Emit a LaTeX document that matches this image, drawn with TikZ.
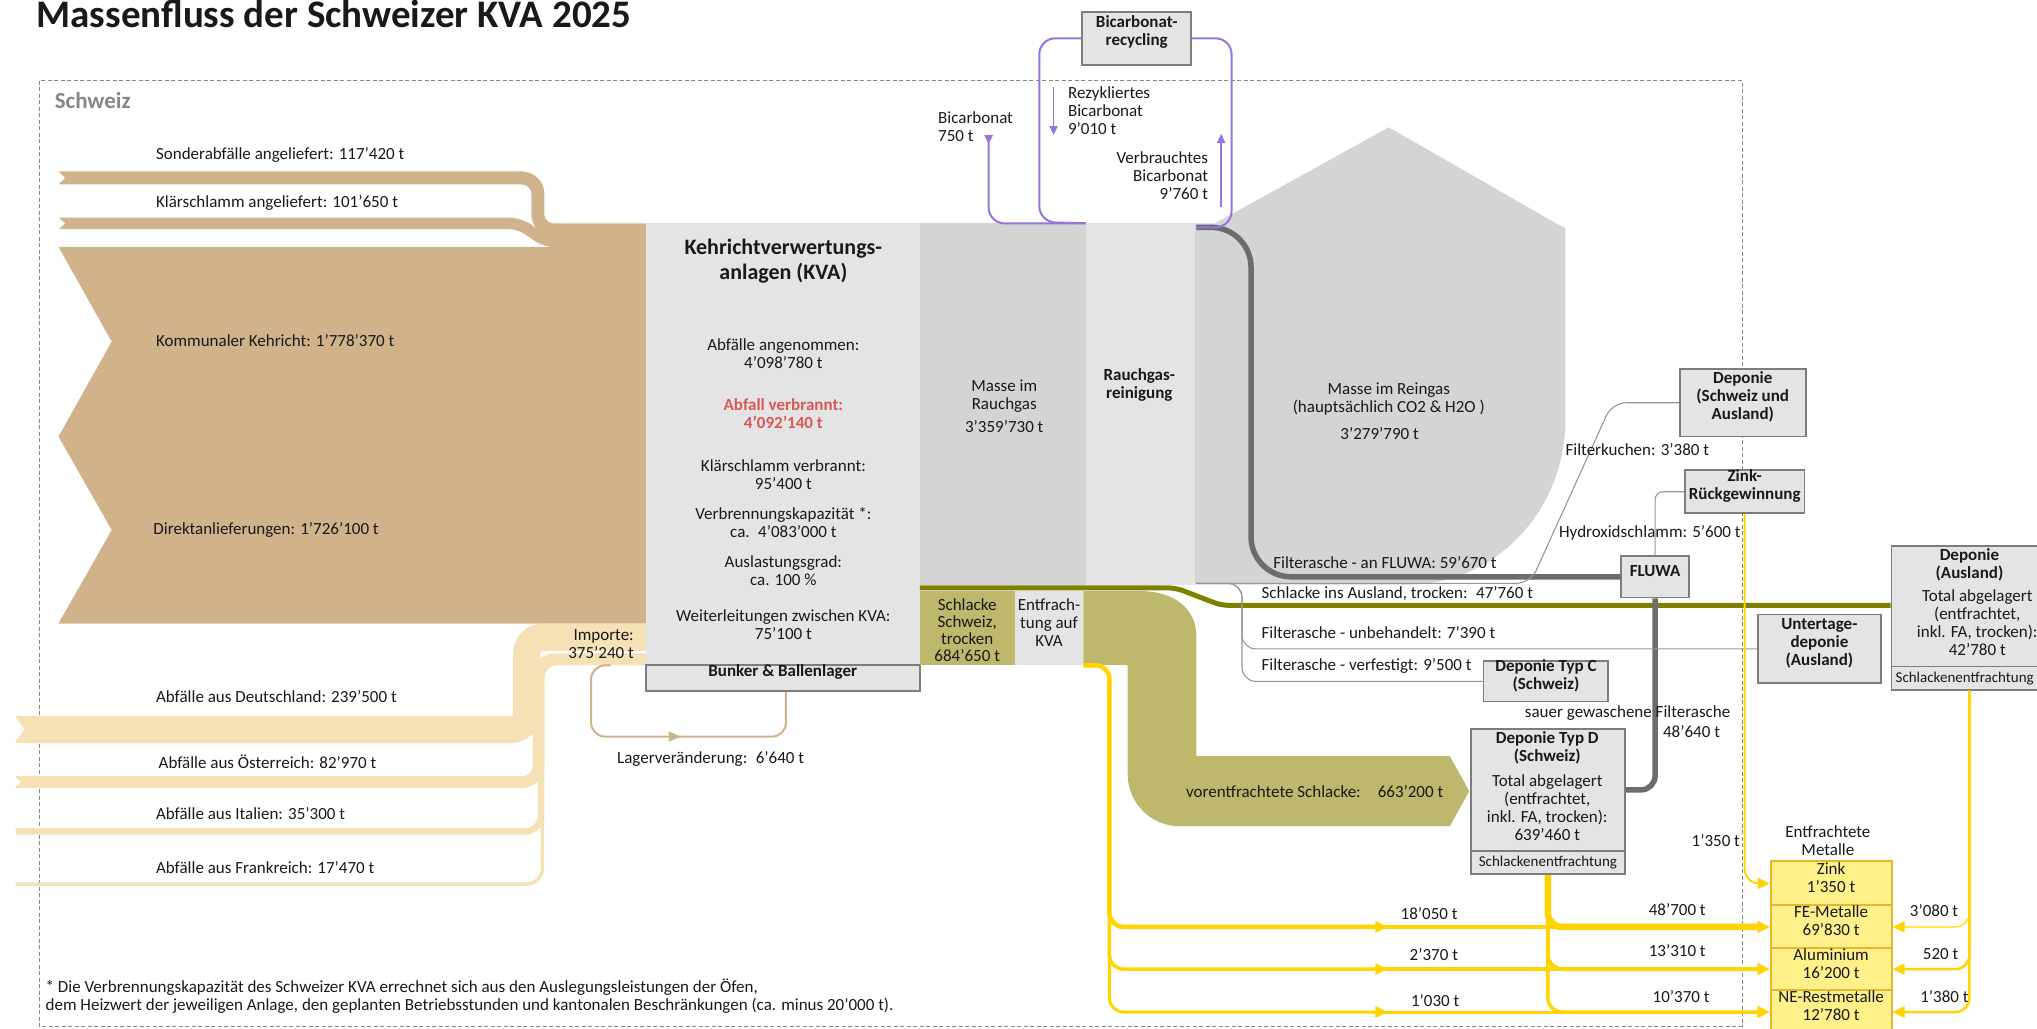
\documentclass[tikz,border=0pt]{standalone}
\usepackage{fontspec}
\setmainfont{Carlito}
\usetikzlibrary{arrows.meta, positioning, calc, fit}

\definecolor{wastetan}{RGB}{209,179,139}
\definecolor{importtan}{RGB}{246,224,181}
\definecolor{slagkhaki}{RGB}{190,184,108}
\definecolor{slagolive}{RGB}{128,128,0}
\definecolor{plantgray}{RGB}{228,228,228}
\definecolor{gasgray}{RGB}{212,212,212}
\definecolor{edgegray}{RGB}{125,125,125}
\definecolor{ashgray}{RGB}{108,108,108}
\definecolor{thingray}{RGB}{150,150,150}
\definecolor{bicarbviolet}{RGB}{150,115,222}
\definecolor{metalgold}{RGB}{255,212,0}
\definecolor{metalfill}{RGB}{255,240,138}
\definecolor{metaledge}{RGB}{228,183,45}
\definecolor{burnred}{RGB}{217,88,86}
\definecolor{framegray}{RGB}{135,135,135}
\definecolor{inkblack}{RGB}{25,25,25}

\begin{document}
\begin{tikzpicture}[x=1.299pt, y=-1.299pt,
    every node/.style={inner sep=0pt, text=inkblack},
    lbl/.style={font=\fontsize{17}{18}\selectfont, align=center},
    boldlbl/.style={font=\fontsize{17}{18}\selectfont\bfseries, align=center},
    sublbl/.style={font=\fontsize{15}{16}\selectfont},
    depotbox/.style={draw=edgegray, fill=plantgray, line width=1.8pt},
    metalbox/.style={draw=metaledge, fill=metalfill, line width=2pt, font=\fontsize{17}{18}\selectfont, align=center},
    goldflow/.style={metalgold, line width=#1, rounded corners=14pt},
    goldflow/.default=3pt,
    goldtip/.style={-{Triangle[length=12pt, width=11pt]}},
    violetflow/.style={bicarbviolet, line width=2pt, rounded corners=16pt},
    thinflow/.style={thingray, line width=1.1pt, rounded corners=14pt},
    ashflow/.style={ashgray, line width=5.5pt},
  ]
    \useasboundingbox (0,0) rectangle (1568,792);
    \clip (0,0) rectangle (1568,792);

    % Title
    \node (title) [anchor=base west, font=\fontsize{39}{43}\selectfont\bfseries] at (28,21) {Massenfluss der Schweizer KVA 2025};

    % Frame Schweiz
    \draw[framegray, line width=0.9pt, dash pattern=on 4pt off 2.5pt] (30,62) rectangle (1341,790);
    \node (schweiz) [anchor=west, font=\fontsize{23}{25}\selectfont\bfseries, text=framegray] at (42,77) {Schweiz};

    % Inputs from Switzerland
    \fill[wastetan] (45,190) -- (498,190) -- (498,480) -- (45,480) -- (86,408) -- (45,336) -- (86,263) -- cycle;
    \draw[wastetan, line width=13pt, rounded corners=16pt] (45,137) -- (414,137) -- (414,177) -- (498,177);
    \draw[wastetan, line width=11.5pt, rounded corners=10pt] (45,172) -- (400,172) -- (420,186) -- (498,186);
    \fill[white] (44,131) -- (50,137) -- (44,143) -- cycle;
    \fill[white] (44,166.5) -- (50,172) -- (44,177.5) -- cycle;

    % Imports
    \draw[importtan, line width=27.3pt, rounded corners=16pt] (12,561.5) -- (405.5,561.5) -- (405.5,490.5) -- (498,490.5);
    \draw[importtan, line width=11.7pt, rounded corners=16pt] (12,602) -- (414.5,602) -- (414.5,507.5) -- (498,507.5);
    \draw[importtan, line width=6.5pt, rounded corners=16pt] (12,640) -- (416.5,640) -- (416.5,509.5) -- (498,509.5);
    \draw[importtan, line width=3.5pt, rounded corners=16pt] (12,680.5) -- (417.5,680.5) -- (417.5,510.5) -- (498,510.5);
    \fill[white] (11,551) -- (19,561.5) -- (11,572) -- cycle;
    \fill[white] (11,597.5) -- (16,602) -- (11,606.5) -- cycle;

    % KVA
    \node (kva) [fill=plantgray, fit={(497,172) (708,512)}] {};
    \node (kvatitle) [font=\fontsize{22}{25}\selectfont\bfseries, align=center] at (603,201) {Kehrichtverwertungs-\\anlagen (KVA)};
    \node (angenommen) [lbl] at (603,272.5) {Abfälle angenommen:\\4’098’780 t};
    \node (verbrannt) [boldlbl, text=burnred] at (603,318.5) {Abfall verbrannt:\\4’092’140 t};
    \node (klaerschlamm) [lbl] at (603,365) {Klärschlamm verbrannt:\\95’400 t};
    \node (kapazitaet) [lbl] at (603,402.5) {Verbrennungskapazität *:\\ca.\enspace 4’083’000 t};
    \node (auslastung) [lbl] at (603,439) {Auslastungsgrad:\\ca. 100 \%};
    \node (weiterleitung) [lbl] at (603,481) {Weiterleitungen zwischen KVA:\\75’100 t};
    \node (bunker) [depotbox, boldlbl, fit={(497,512) (708,532)}] {Bunker \& Ballenlager};
    \node (importe) [lbl, align=right, anchor=east] at (488,495.5) {Importe:\\375’240 t};

    % Flue gas
    \node (rauchgasblock) [fill=gasgray, fit={(708,172) (836,450)}] {};
    \node (rauchgas) [lbl] at (773,313) {Masse im\\Rauchgas\\[5pt]3’359’730 t};
    \node (reinigung) [fill=plantgray, fit={(836,172) (920,450)}] {};
    \node (reinigunglbl) [boldlbl] at (877,296.5) {Rauchgas-\\reinigung};
    \fill[gasgray] (920,450) -- (920,172) -- (935,172) -- (1069,98) -- (1205,176) -- (1205,323) .. controls (1205,393) and (1151,450) .. (1084,450) -- cycle;
    \node (reingas) [lbl] at (1069,307.5) {Masse im Reingas\\(hauptsächlich CO2 \& H2O )};
    \node (reingaswert) [lbl] at (1062,334) {3’279’790 t};

    % Slag
    \node (schlacke) [fill=slagkhaki, fit={(708,455) (781,512)}] {};
    \node (schlackelbl) [font=\fontsize{17}{17}\selectfont, align=center] at (744.5,485) {Schlacke\\Schweiz,\\trocken\\684’650 t};
    \node (entfr) [fill=plantgray, lbl, fit={(781,455) (834,512)}] {Entfrach-\\tung auf\\KVA};
    \fill[slagkhaki] (834,455) -- (878,455) .. controls (903,455) and (921,468) .. (921,490) -- (921,582) -- (1116,582) -- (1131,609) -- (1116,636) -- (908,636) .. controls (886,636) and (868,618) .. (868,596) -- (868,512) -- (834,512) -- cycle;
    \node (vorentfr) [lbl] at (1012,609.5) {vorentfrachtete Schlacke:\enspace\enspace 663’200 t};

    % Disposal boxes
    \node (bicarb) [depotbox, boldlbl, fit={(833,9) (917,50)}] {Bicarbonat-\\recycling};
    \node (dschweiz) [depotbox, boldlbl, fit={(1293,284) (1390,336)}] {Deponie\\(Schweiz und\\Ausland)};
    \node (zinkrg) [depotbox, boldlbl, fit={(1297,362) (1389,395)}] {Zink-\\Rückgewinnung};
    \node (fluwa) [depotbox, boldlbl, fit={(1248,428) (1300,460)}] {FLUWA};
    \node (dtypc) [depotbox, boldlbl, fit={(1142,509) (1238,540)}] {Deponie Typ C\\(Schweiz)};
    \node (untertage) [depotbox, boldlbl, fit={(1353,473) (1448,526)}] {Untertage-\\deponie\\(Ausland)};
    \node (dtypd) [depotbox, fit={(1132,561) (1251,673)}] {};
    \draw[edgegray, line width=1.8pt] (dtypd.west |- 0,655) -- (dtypd.east |- 0,655);
    \node (dtypdtitle) [boldlbl] at (1191,576) {Deponie Typ D\\(Schweiz)};
    \node (dtypdtotal) [lbl] at (1191,621.5) {Total abgelagert\\(entfrachtet,\\inkl. FA, trocken):\\639’460 t};
    \node (dtypdsub) [sublbl] at (1191.5,664) {Schlackenentfrachtung};
    \node (dausland) [depotbox, fit={(1456,420) (1590,531)}] {};
    \draw[edgegray, line width=1.8pt] (dausland.west |- 0,513) -- (dausland.east |- 0,513);
    \node (dauslandtitle) [boldlbl] at (1516,435) {Deponie\\(Ausland)};
    \node (dauslandtotal) [lbl] at (1522,479.5) {Total abgelagert\\(entfrachtet,\\inkl. FA, trocken):\\42’780 t};
    \node (dauslandsub) [sublbl, anchor=west] at (1459,522) {Schlackenentfrachtung};

    % Slag abroad
    \draw[slagolive, line width=5pt, rounded corners=8pt] (kva.south east |- 0,452.5) -- (905,452.5) -- (940,466) -- (dausland.west |- 0,466);
    \node (auslandlbl) [lbl, anchor=west] at (971,457) {Schlacke ins Ausland, trocken:\enspace 47’760 t};

    % Fly ash
    \draw[ashflow, rounded corners=40pt] (921,175) -- (963,175) -- (963,0 |- fluwa.west) -- (fluwa.west);
    \draw[ashflow, rounded corners=14pt] (fluwa.south) -- (1274,608) -- (dtypd.east |- 0,608);
    \draw[thinflow] (921,449) -- (1178,449) -- (1241,0 |- dschweiz.west) -- (dschweiz.west);
    \draw[thinflow] (921,449) -- (956,449) -- (956,0 |- untertage.west) -- (untertage.west);
    \draw[thinflow] (921,449) -- (956,449) -- (956,0 |- dtypc.west) -- (dtypc.west);
    \draw[thinflow, rounded corners=8pt] (fluwa.north) -- (fluwa.north |- zinkrg.west) -- (zinkrg.west);
    \node (fluwalbl) [lbl, anchor=west] at (980,433) {Filterasche - an FLUWA: 59’670 t};
    \node (unbehandelt) [lbl, anchor=west] at (971,487) {Filterasche - unbehandelt: 7’390 t};
    \node (verfestigt) [lbl, anchor=west] at (971,513) {Filterasche - verfestigt: 9’500 t};
    \node (filterkuchen) [lbl, anchor=west] at (1205,346) {Filterkuchen: 3’380 t};
    \node (hydroxid) [lbl, anchor=west] at (1200,410) {Hydroxidschlamm: 5’600 t};
    \node (sauer) [lbl, anchor=east] at (1332,549) {sauer gewaschene Filterasche};
    \node (sauerwert) [lbl, anchor=west] at (1280,563) {48’640 t};

    % Bicarbonate
    \draw[violetflow] (bicarb.west) -- (800,0 |- bicarb.west) -- (800,171) -- (reinigung.north west);
    \draw[violetflow] (bicarb.east) -- (948,0 |- bicarb.east) -- (948,175) -- (921,175);
    \draw[violetflow, {Triangle[reversed, length=9pt, width=8pt]}-] (761,104) -- (761,172) -- (reinigung.north west);
    \draw[bicarbviolet, line width=1.5pt, -{Triangle[length=9pt, width=8pt]}] (811,67) -- (811,104);
    \draw[bicarbviolet, line width=1.5pt, -{Triangle[length=9pt, width=8pt]}] (940,159) -- (940,103);
    \node (bic750) [lbl, align=left, anchor=west] at (722,97.5) {Bicarbonat\\750 t};
    \node (bicrez) [lbl, align=left, anchor=west] at (822,85) {Rezykliertes\\Bicarbonat\\9’010 t};
    \node (bicverb) [lbl, align=right, anchor=east] at (930,135.5) {Verbrauchtes\\Bicarbonat\\9’760 t};

    % Storage
    \draw[wastetan, line width=2pt, rounded corners=14pt, -{Triangle[length=12pt, width=10pt]}] (470,0 |- kva.south) -- (455,0 |- kva.south) -- (455,567) -- (524,567);
    \draw[wastetan, line width=2pt, rounded corners=14pt] (516,567) -- (605,567) -- (605,0 |- bunker.south);
    \node (lager) [lbl] at (547,584) {Lagerveränderung:\enspace 6’640 t};

    % Metals
    \node (metalhead) [lbl] at (1407,647) {Entfrachtete\\Metalle};
    \node (zinkm) [metalbox, fit={(1363,663) (1456,697)}] {Zink\\1’350 t};
    \node (fem) [metalbox, fit={(1363,697) (1456,730)}] {FE-Metalle\\69’830 t};
    \node (alm) [metalbox, fit={(1363,730) (1456,762)}] {Aluminium\\16’200 t};
    \node (nem) [metalbox, fit={(1363,762) (1456,796)}] {NE-Restmetalle\\12’780 t};

    \foreach \target/\w in {fem/4.5pt, alm/3.5pt, nem/3pt} {
        \draw[goldflow=\w, goldtip] (entfr.south east) -- (854,512) -- (854,0 |- \target.west) -- (1068,0 |- \target.west);
        \draw[goldflow=\w, goldtip] (1058,0 |- \target.west) -- (\target.west);
    }
    \foreach \target/\w in {fem/6.5pt, alm/4pt, nem/3.5pt} {
        \draw[goldflow=\w, goldtip] (dtypd.south) -- (dtypd.south |- \target.west) -- (\target.west);
    }
    \foreach \target/\w in {fem/1.2pt, alm/2.5pt, nem/2.5pt} {
        \draw[goldflow=\w, goldtip] (1516,0 |- dausland.south) -- (1516,0 |- \target.east) -- (\target.east);
    }
    \draw[goldflow=2pt, goldtip] (zinkrg.south) -- (zinkrg.south |- zinkm.west) -- (zinkm.west);

    \node (kva18050) [lbl, anchor=west] at (1078,703) {18’050 t};
    \node (kva2370) [lbl, anchor=west] at (1085,735) {2’370 t};
    \node (kva1030) [lbl, anchor=west] at (1086,770) {1’030 t};
    \node (typd48700) [lbl, anchor=west] at (1269,700) {48’700 t};
    \node (typd13310) [lbl, anchor=west] at (1269,732) {13’310 t};
    \node (typd10370) [lbl, anchor=west] at (1272,767) {10’370 t};
    \node (zink1350) [lbl, anchor=west] at (1302,647) {1’350 t};
    \node (ausl3080) [lbl, anchor=west] at (1470,701) {3’080 t};
    \node (ausl520) [lbl, anchor=west] at (1480,734) {520 t};
    \node (ausl1380) [lbl, anchor=west] at (1478,767) {1’380 t};

    % Input labels
    \node (sonder) [lbl, anchor=west] at (120,119) {Sonderabfälle angeliefert: 117’420 t};
    \node (klaer) [lbl, anchor=west] at (120,156) {Klärschlamm angeliefert: 101’650 t};
    \node (kommunal) [lbl, anchor=west] at (120,262) {Kommunaler Kehricht: 1’778’370 t};
    \node (direkt) [lbl, anchor=west] at (118,408) {Direktanlieferungen: 1’726’100 t};
    \node (deutschland) [lbl, anchor=west] at (120,536) {Abfälle aus Deutschland: 239’500 t};
    \node (oesterreich) [lbl, anchor=west] at (122,586) {Abfälle aus Österreich: 82’970 t};
    \node (italien) [lbl, anchor=west] at (120,626) {Abfälle aus Italien: 35’300 t};
    \node (frankreich) [lbl, anchor=west] at (120,668) {Abfälle aus Frankreich: 17’470 t};

    % Footnote
    \node (footnote) [lbl, align=left, anchor=west] at (35,766.5) {* Die Verbrennungskapazität des Schweizer KVA errechnet sich aus den Auslegungsleistungen der Öfen,\\dem Heizwert der jeweiligen Anlage, den geplanten Betriebsstunden und kantonalen Beschränkungen (ca. minus 20’000 t).};
\end{tikzpicture}
\end{document}
